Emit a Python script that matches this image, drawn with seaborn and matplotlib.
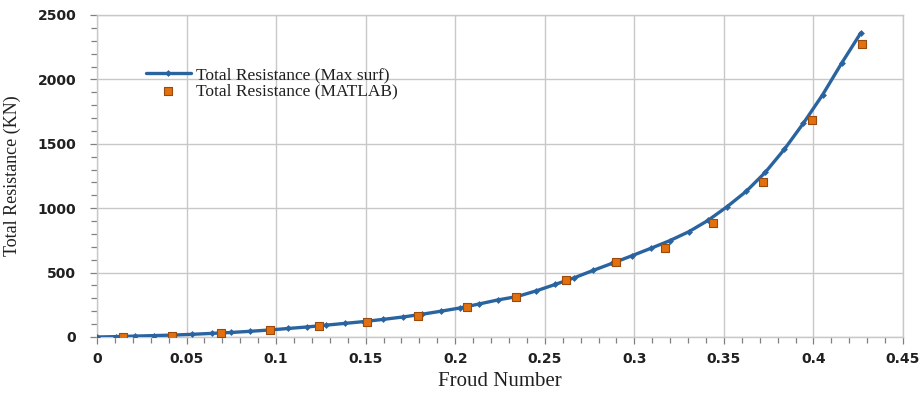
import numpy as np
import pandas as pd
import seaborn as sns
import matplotlib.pyplot as plt
from matplotlib.ticker import MultipleLocator

# Maxsurf series
fn_maxsurf = [0.0, 0.0107, 0.0213, 0.032, 0.0426, 0.0533, 0.064, 0.0746, 0.0853, 0.0959,
              0.1066, 0.1173, 0.1279, 0.1386, 0.1492, 0.1599, 0.1706, 0.1812, 0.1919, 0.2025,
              0.2132, 0.2239, 0.2345, 0.2452, 0.2558, 0.2665, 0.2772, 0.2878, 0.2985, 0.3091,
              0.3198, 0.3305, 0.3411, 0.3518, 0.3624, 0.3731, 0.3838, 0.3944, 0.4051, 0.4157,
              0.4264]
rt_maxsurf = [0, 3, 7, 11, 15, 21, 28, 35, 44, 54,
              66, 78, 92, 106, 120, 137, 155, 176, 200, 225,
              256, 288, 314, 358, 408, 460, 518, 573, 630, 688,
              748, 818, 905, 1012, 1130, 1278, 1458, 1660, 1880, 2125,
              2360]

# MATLAB series
fn_matlab = [0.0145, 0.0419, 0.0692, 0.0966, 0.124, 0.151, 0.179, 0.2066, 0.234, 0.262,
             0.290, 0.317, 0.344, 0.372, 0.399, 0.427]
rt_matlab = [2, 10, 29, 52, 83, 114, 163, 231, 308, 445,
             580, 693, 885, 1203, 1685, 2277]

x_ticks = [0, 0.05, 0.1, 0.15, 0.2, 0.25, 0.3, 0.35, 0.4, 0.45]
x_ticklabels = ["0", "0.05", "0.1", "0.15", "0.2", "0.25", "0.3", "0.35", "0.4", "0.45"]
y_ticks = [0, 500, 1000, 1500, 2000, 2500]

df_max = pd.DataFrame({"fn": fn_maxsurf, "rt": rt_maxsurf})
df_mat = pd.DataFrame({"fn": fn_matlab, "rt": rt_matlab})

sns.set_theme(style="white")
plt.rcParams["font.family"] = ["DejaVu Sans"]
plt.rcParams["xtick.bottom"] = True
plt.rcParams["ytick.left"] = True

fig = plt.figure(figsize=(9.22, 3.96), dpi=100)
ax = fig.add_axes([97 / 922, 1 - 337 / 396, 806 / 922, 322 / 396])

grid_c = "#c8c8c8"
blue = "#2a64a0"

sns.lineplot(data=df_max, x="fn", y="rt", ax=ax, color=blue, linewidth=2.4,
             marker="D", markersize=3.5, markeredgewidth=0, markerfacecolor=blue,
             label="Total Resistance (Max surf)", zorder=3)
sns.scatterplot(data=df_mat, x="fn", y="rt", ax=ax, marker="s", s=40,
                color="#e2700f", edgecolor="#9a4a0c", linewidth=0.8,
                label="Total Resistance (MATLAB)", zorder=4)

ax.set_xlim(0, 0.45)
ax.set_ylim(0, 2500)
ax.set_xticks(x_ticks)
ax.set_xticklabels(x_ticklabels)
ax.set_yticks(y_ticks)
ax.xaxis.set_minor_locator(MultipleLocator(0.01))
ax.yaxis.set_minor_locator(MultipleLocator(100))
ax.grid(True, which="major", color=grid_c, linewidth=1.0)
for s in ax.spines.values():
    s.set_color(grid_c)
    s.set_linewidth(1.0)
ax.tick_params(axis="both", which="both", direction="out",
               bottom=True, left=True, top=False, right=False)
ax.tick_params(axis="both", which="major", length=5, width=0.9, labelsize=10,
               color="#808080", labelcolor="#202020", pad=6)
ax.tick_params(axis="both", which="minor", length=4, width=0.9, color="#808080")
ax.tick_params(axis="y", which="major", pad=10)
for lab in ax.get_xticklabels() + ax.get_yticklabels():
    lab.set_fontweight("bold")

serif = ["Liberation Serif", "DejaVu Serif"]
ax.set_xlabel("Froud Number", fontsize=15, family=serif, color="#202020", labelpad=4)
ax.set_ylabel("Total Resistance (KN)", fontsize=13, family=serif, color="#202020", labelpad=12)

leg = ax.legend(loc="upper left", bbox_to_anchor=(0.052, 0.86), frameon=False,
                prop={"family": serif, "size": 12.5}, handlelength=2.6,
                borderaxespad=0, labelspacing=0.0, handletextpad=0.3)
for t in leg.get_texts():
    t.set_color("#202020")

fig.savefig("out.png", dpi=100)
